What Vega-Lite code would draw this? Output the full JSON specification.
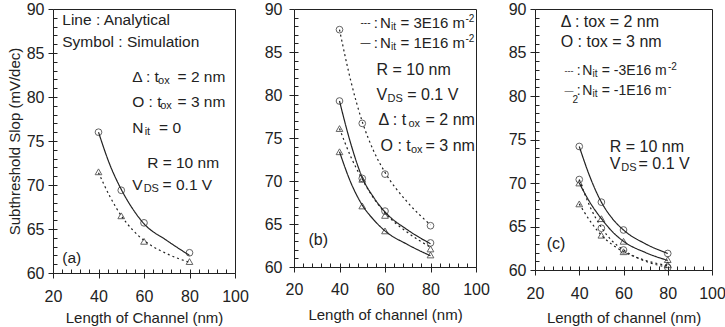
{
"$schema": "https://vega.github.io/schema/vega-lite/v6.json",
"background": "white",
"padding": {"left": 6, "top": 0, "right": 2, "bottom": 2},
"bounds": "flush",
"spacing": 59,
"config": {
  "font": "Liberation Sans",
  "view": {"stroke": "#222", "strokeWidth": 1},
  "axis": {"domain": false, "grid": false, "tickColor": "#222", "tickWidth": 1, "labelColor": "#222", "titleColor": "#222", "labelFont": "Liberation Sans", "titleFont": "Liberation Sans", "labelFontSize": 16, "titleFontSize": 15, "titleFontWeight": "normal", "labelFlush": false, "labelOverlap": false},
  "text": {"font": "Liberation Sans", "color": "#222", "align": "left", "baseline": "middle"}
},
"datasets": {
  "sim": [
    {"panel":"a","tox":"3 nm","nit":"0","L":40,"S":76.0},{"panel":"a","tox":"3 nm","nit":"0","L":50,"S":69.4},{"panel":"a","tox":"3 nm","nit":"0","L":60,"S":65.7},{"panel":"a","tox":"3 nm","nit":"0","L":80,"S":62.3},
    {"panel":"a","tox":"2 nm","nit":"0","L":40,"S":71.5},{"panel":"a","tox":"2 nm","nit":"0","L":50,"S":66.5},{"panel":"a","tox":"2 nm","nit":"0","L":60,"S":63.6},{"panel":"a","tox":"2 nm","nit":"0","L":80,"S":61.3},
    {"panel":"b","tox":"3 nm","nit":"3E16","L":40,"S":87.6},{"panel":"b","tox":"3 nm","nit":"3E16","L":50,"S":76.7},{"panel":"b","tox":"3 nm","nit":"3E16","L":60,"S":70.8},{"panel":"b","tox":"3 nm","nit":"3E16","L":80,"S":64.8},
    {"panel":"b","tox":"2 nm","nit":"3E16","L":40,"S":76.1},{"panel":"b","tox":"2 nm","nit":"3E16","L":50,"S":70.2},{"panel":"b","tox":"2 nm","nit":"3E16","L":60,"S":66.0},{"panel":"b","tox":"2 nm","nit":"3E16","L":80,"S":62.1},
    {"panel":"b","tox":"3 nm","nit":"1E16","L":40,"S":79.3},{"panel":"b","tox":"3 nm","nit":"1E16","L":50,"S":70.3},{"panel":"b","tox":"3 nm","nit":"1E16","L":60,"S":66.5},{"panel":"b","tox":"3 nm","nit":"1E16","L":80,"S":62.8},
    {"panel":"b","tox":"2 nm","nit":"1E16","L":40,"S":73.4},{"panel":"b","tox":"2 nm","nit":"1E16","L":50,"S":67.1},{"panel":"b","tox":"2 nm","nit":"1E16","L":60,"S":64.2},{"panel":"b","tox":"2 nm","nit":"1E16","L":80,"S":61.4},
    {"panel":"c","tox":"3 nm","nit":"-1E16","L":40,"S":74.2},{"panel":"c","tox":"3 nm","nit":"-1E16","L":50,"S":67.8},{"panel":"c","tox":"3 nm","nit":"-1E16","L":60,"S":64.6},{"panel":"c","tox":"3 nm","nit":"-1E16","L":80,"S":61.9},
    {"panel":"c","tox":"2 nm","nit":"-1E16","L":40,"S":70.0},{"panel":"c","tox":"2 nm","nit":"-1E16","L":50,"S":65.9},{"panel":"c","tox":"2 nm","nit":"-1E16","L":60,"S":63.3},{"panel":"c","tox":"2 nm","nit":"-1E16","L":80,"S":61.2},
    {"panel":"c","tox":"3 nm","nit":"-3E16","L":40,"S":70.4},{"panel":"c","tox":"3 nm","nit":"-3E16","L":50,"S":64.8},{"panel":"c","tox":"3 nm","nit":"-3E16","L":60,"S":62.3},{"panel":"c","tox":"3 nm","nit":"-3E16","L":80,"S":60.3},
    {"panel":"c","tox":"2 nm","nit":"-3E16","L":40,"S":67.6},{"panel":"c","tox":"2 nm","nit":"-3E16","L":50,"S":64.0},{"panel":"c","tox":"2 nm","nit":"-3E16","L":60,"S":62.1},{"panel":"c","tox":"2 nm","nit":"-3E16","L":80,"S":60.6}
  ],
  "ana": [
    {"panel":"a","tox":"3 nm","nit":"0","L":40,"S":76.0},{"panel":"a","tox":"3 nm","nit":"0","L":45,"S":72.3},{"panel":"a","tox":"3 nm","nit":"0","L":50,"S":69.5},{"panel":"a","tox":"3 nm","nit":"0","L":55,"S":67.3},{"panel":"a","tox":"3 nm","nit":"0","L":60,"S":65.6},{"panel":"a","tox":"3 nm","nit":"0","L":70,"S":63.7},{"panel":"a","tox":"3 nm","nit":"0","L":80,"S":62.0},
    {"panel":"a","tox":"2 nm","nit":"0","L":40,"S":71.4},{"panel":"a","tox":"2 nm","nit":"0","L":45,"S":68.7},{"panel":"a","tox":"2 nm","nit":"0","L":50,"S":66.5},{"panel":"a","tox":"2 nm","nit":"0","L":55,"S":64.9},{"panel":"a","tox":"2 nm","nit":"0","L":60,"S":63.7},{"panel":"a","tox":"2 nm","nit":"0","L":70,"S":62.2},{"panel":"a","tox":"2 nm","nit":"0","L":80,"S":61.2},
    {"panel":"b","tox":"3 nm","nit":"3E16","L":40,"S":87.6},{"panel":"b","tox":"3 nm","nit":"3E16","L":45,"S":81.6},{"panel":"b","tox":"3 nm","nit":"3E16","L":50,"S":76.9},{"panel":"b","tox":"3 nm","nit":"3E16","L":55,"S":73.5},{"panel":"b","tox":"3 nm","nit":"3E16","L":60,"S":71.0},{"panel":"b","tox":"3 nm","nit":"3E16","L":70,"S":67.5},{"panel":"b","tox":"3 nm","nit":"3E16","L":80,"S":64.9},
    {"panel":"b","tox":"2 nm","nit":"3E16","L":40,"S":76.1},{"panel":"b","tox":"2 nm","nit":"3E16","L":45,"S":72.8},{"panel":"b","tox":"2 nm","nit":"3E16","L":50,"S":70.2},{"panel":"b","tox":"2 nm","nit":"3E16","L":55,"S":68.0},{"panel":"b","tox":"2 nm","nit":"3E16","L":60,"S":66.3},{"panel":"b","tox":"2 nm","nit":"3E16","L":70,"S":64.0},{"panel":"b","tox":"2 nm","nit":"3E16","L":80,"S":62.3},
    {"panel":"b","tox":"3 nm","nit":"1E16","L":40,"S":79.3},{"panel":"b","tox":"3 nm","nit":"1E16","L":45,"S":74.3},{"panel":"b","tox":"3 nm","nit":"1E16","L":50,"S":70.4},{"panel":"b","tox":"3 nm","nit":"1E16","L":55,"S":68.1},{"panel":"b","tox":"3 nm","nit":"1E16","L":60,"S":66.4},{"panel":"b","tox":"3 nm","nit":"1E16","L":70,"S":64.3},{"panel":"b","tox":"3 nm","nit":"1E16","L":80,"S":62.7},
    {"panel":"b","tox":"2 nm","nit":"1E16","L":40,"S":73.4},{"panel":"b","tox":"2 nm","nit":"1E16","L":45,"S":69.8},{"panel":"b","tox":"2 nm","nit":"1E16","L":50,"S":67.2},{"panel":"b","tox":"2 nm","nit":"1E16","L":55,"S":65.5},{"panel":"b","tox":"2 nm","nit":"1E16","L":60,"S":64.2},{"panel":"b","tox":"2 nm","nit":"1E16","L":70,"S":62.6},{"panel":"b","tox":"2 nm","nit":"1E16","L":80,"S":61.3},
    {"panel":"c","tox":"3 nm","nit":"-1E16","L":40,"S":74.2},{"panel":"c","tox":"3 nm","nit":"-1E16","L":45,"S":70.6},{"panel":"c","tox":"3 nm","nit":"-1E16","L":50,"S":67.8},{"panel":"c","tox":"3 nm","nit":"-1E16","L":55,"S":65.9},{"panel":"c","tox":"3 nm","nit":"-1E16","L":60,"S":64.6},{"panel":"c","tox":"3 nm","nit":"-1E16","L":70,"S":63.0},{"panel":"c","tox":"3 nm","nit":"-1E16","L":80,"S":61.9},
    {"panel":"c","tox":"2 nm","nit":"-1E16","L":40,"S":70.0},{"panel":"c","tox":"2 nm","nit":"-1E16","L":45,"S":67.7},{"panel":"c","tox":"2 nm","nit":"-1E16","L":50,"S":65.9},{"panel":"c","tox":"2 nm","nit":"-1E16","L":55,"S":64.4},{"panel":"c","tox":"2 nm","nit":"-1E16","L":60,"S":63.3},{"panel":"c","tox":"2 nm","nit":"-1E16","L":70,"S":62.0},{"panel":"c","tox":"2 nm","nit":"-1E16","L":80,"S":61.1},
    {"panel":"c","tox":"3 nm","nit":"-3E16","L":40,"S":70.4},{"panel":"c","tox":"3 nm","nit":"-3E16","L":45,"S":67.2},{"panel":"c","tox":"3 nm","nit":"-3E16","L":50,"S":64.9},{"panel":"c","tox":"3 nm","nit":"-3E16","L":55,"S":63.3},{"panel":"c","tox":"3 nm","nit":"-3E16","L":60,"S":62.3},{"panel":"c","tox":"3 nm","nit":"-3E16","L":70,"S":61.0},{"panel":"c","tox":"3 nm","nit":"-3E16","L":80,"S":60.3},
    {"panel":"c","tox":"2 nm","nit":"-3E16","L":40,"S":67.6},{"panel":"c","tox":"2 nm","nit":"-3E16","L":45,"S":65.6},{"panel":"c","tox":"2 nm","nit":"-3E16","L":50,"S":64.0},{"panel":"c","tox":"2 nm","nit":"-3E16","L":55,"S":62.9},{"panel":"c","tox":"2 nm","nit":"-3E16","L":60,"S":62.1},{"panel":"c","tox":"2 nm","nit":"-3E16","L":70,"S":61.1},{"panel":"c","tox":"2 nm","nit":"-3E16","L":80,"S":60.5}
  ],
  "notes": [
    {"panel":"a","role":"label","x":24.08,"y":88.75,"t":"Line : Analytical"},
    {"panel":"a","role":"label","x":24.08,"y":86.25,"t":"Symbol : Simulation"},
    {"panel":"a","role":"label","x":54.8,"y":82.27,"t":"Δ : t"},
    {"panel":"a","role":"label","x":74.76,"y":82.27,"t":"= 2 nm"},
    {"panel":"a","role":"label","x":54.8,"y":79.43,"t":"O : t"},
    {"panel":"a","role":"label","x":74.76,"y":79.43,"t":"= 3 nm"},
    {"panel":"a","role":"label","x":54.8,"y":76.48,"t":"N"},
    {"panel":"a","role":"label","x":66.64,"y":76.48,"t":"= 0"},
    {"panel":"a","role":"label","x":61.38,"y":72.5,"t":"R = 10 nm"},
    {"panel":"a","role":"label","x":54.8,"y":70.0,"t":"V"},
    {"panel":"a","role":"label","x":68.18,"y":70.0,"t":"= 0.1 V"},
    {"panel":"a","role":"label","x":24.08,"y":61.7,"t":"(a)"},
    {"panel":"a","role":"sub","x":66.2,"y":81.82,"t":"ox"},
    {"panel":"a","role":"sub","x":67.1,"y":78.98,"t":"ox"},
    {"panel":"a","role":"sub","x":60.28,"y":76.02,"t":"it"},
    {"panel":"a","role":"sub","x":59.84,"y":69.55,"t":"DS"},
    {"panel":"b","role":"label","x":56.26,"y":82.92,"t":"R = 10 nm"},
    {"panel":"b","role":"label","x":56.26,"y":80.05,"t":"V"},
    {"panel":"b","role":"label","x":69.76,"y":80.05,"t":"= 0.1 V"},
    {"panel":"b","role":"label","x":57.14,"y":77.11,"t":"Δ : t"},
    {"panel":"b","role":"label","x":77.8,"y":77.11,"t":"= 2 nm"},
    {"panel":"b","role":"label","x":58.02,"y":74.09,"t":"O : t"},
    {"panel":"b","role":"label","x":77.8,"y":74.09,"t":"= 3 nm"},
    {"panel":"b","role":"label","x":26.37,"y":63.1,"t":"(b)"},
    {"panel":"b","role":"sub","x":61.1,"y":79.59,"t":"DS"},
    {"panel":"b","role":"sub","x":70.33,"y":76.65,"t":"ox"},
    {"panel":"b","role":"sub","x":71.43,"y":73.63,"t":"ox"},
    {"panel":"b","role":"dash","x":49.23,"y":88.33,"t":"---"},
    {"panel":"b","role":"dash","x":49.23,"y":86.01,"t":"—"},
    {"panel":"b","role":"key","x":55.1,"y":88.33,"t":":"},
    {"panel":"b","role":"key","x":55.1,"y":86.01,"t":":"},
    {"panel":"b","role":"key","x":57.8,"y":88.33,"t":"N"},
    {"panel":"b","role":"key","x":57.8,"y":86.01,"t":"N"},
    {"panel":"b","role":"key","x":66.81,"y":88.33,"t":"= 3E16 m"},
    {"panel":"b","role":"key","x":66.81,"y":86.01,"t":"= 1E16 m"},
    {"panel":"b","role":"keysub","x":62.64,"y":87.94,"t":"it"},
    {"panel":"b","role":"keysub","x":62.64,"y":85.62,"t":"it"},
    {"panel":"b","role":"keysub","x":95.4,"y":88.84,"t":"-2"},
    {"panel":"b","role":"keysub","x":95.4,"y":86.52,"t":"-2"},
    {"panel":"c","role":"label","x":31.63,"y":88.46,"t":"Δ : tox = 2 nm"},
    {"panel":"c","role":"label","x":31.63,"y":86.16,"t":"O : tox = 3 nm"},
    {"panel":"c","role":"label","x":53.82,"y":74.09,"t":"R = 10 nm"},
    {"panel":"c","role":"label","x":53.82,"y":72.18,"t":"V"},
    {"panel":"c","role":"label","x":66.81,"y":72.18,"t":"= 0.1 V"},
    {"panel":"c","role":"label","x":25.3,"y":62.99,"t":"(c)"},
    {"panel":"c","role":"sub","x":59.02,"y":71.76,"t":"DS"},
    {"panel":"c","role":"dashc","x":33.31,"y":82.91,"t":"---"},
    {"panel":"c","role":"dashc","x":33.31,"y":80.61,"t":"—"},
    {"panel":"c","role":"keyc","x":38.88,"y":82.91,"t":":"},
    {"panel":"c","role":"keyc","x":38.88,"y":80.61,"t":":"},
    {"panel":"c","role":"keyc","x":41.37,"y":82.91,"t":"N"},
    {"panel":"c","role":"keyc","x":41.37,"y":80.61,"t":"N"},
    {"panel":"c","role":"keyc","x":50.19,"y":82.91,"t":"= -3E16 m"},
    {"panel":"c","role":"keyc","x":50.19,"y":80.61,"t":"= -1E16 m"},
    {"panel":"c","role":"keysub","x":46.03,"y":82.51,"t":"it"},
    {"panel":"c","role":"keysub","x":46.03,"y":80.21,"t":"it"},
    {"panel":"c","role":"keysub","x":80.07,"y":83.33,"t":"-2"},
    {"panel":"c","role":"keysub","x":80.07,"y":81.03,"t":"-"},
    {"panel":"c","role":"keysub","x":36.93,"y":79.57,"t":"2"}
  ]
},
"hconcat": [
  {
    "width": 182, "height": 264,
    "resolve": {"axis": {"x": "independent", "y": "independent"}},
    "encoding": {
      "x": {"field": "x", "type": "quantitative", "scale": {"domain": [20, 100], "nice": false, "zero": false}, "axis": null},
      "y": {"field": "y", "type": "quantitative", "scale": {"domain": [60, 90], "nice": false, "zero": false}, "axis": null}
    },
    "layer": [
      {
        "data": {"name": "ana"},
        "transform": [{"filter": "datum.panel === 'a'"}],
        "mark": {"type": "line", "interpolate": "monotone", "color": "#222", "strokeWidth": 1.2},
        "encoding": {
          "x": {"field": "L", "type": "quantitative", "scale": {"domain": [20, 100], "nice": false, "zero": false},
                "axis": {"orient": "bottom", "values": [20, 40, 60, 80, 100], "tickSize": 5, "labelPadding": 10, "title": "Length of Channel (nm)", "titlePadding": 6}},
          "y": {"field": "S", "type": "quantitative", "scale": {"domain": [60, 90], "nice": false, "zero": false},
                "axis": {"orient": "left", "values": [60, 65, 70, 75, 80, 85, 90], "tickSize": 5, "labelPadding": 4, "title": "Subthreshold Slop (mV/dec)", "titlePadding": 4}},
          "strokeDash": {"field": "tox", "type": "nominal", "scale": {"domain": ["3 nm", "2 nm"], "range": [[1, 0], [2, 3]]}, "legend": null}
        }
      },
      {
        "data": {"name": "sim"},
        "transform": [{"filter": "datum.panel === 'a'"}],
        "mark": {"type": "point", "filled": false, "color": "#222", "strokeWidth": 1, "size": 45},
        "encoding": {
          "x": {"field": "L", "type": "quantitative", "scale": {"domain": [20, 100], "nice": false, "zero": false},
                "axis": {"orient": "bottom", "values": [20,24,28,32,36,40,44,48,52,56,60,64,68,72,76,80,84,88,92,96,100], "tickSize": -4, "labels": false, "title": null}},
          "y": {"field": "S", "type": "quantitative", "scale": {"domain": [60, 90], "nice": false, "zero": false},
                "axis": {"orient": "left", "values": [60,61,62,63,64,65,66,67,68,69,70,71,72,73,74,75,76,77,78,79,80,81,82,83,84,85,86,87,88,89,90], "tickSize": -4, "labels": false, "title": null}},
          "shape": {"field": "tox", "type": "nominal", "scale": {"domain": ["2 nm", "3 nm"], "range": ["triangle-up", "circle"]}, "legend": null}
        }
      },
      {"data": {"name": "notes"}, "transform": [{"filter": "datum.panel === 'a' && datum.role === 'label'"}], "mark": {"type": "text", "fontSize": 15.5}, "encoding": {"text": {"field": "t"}}},
      {"data": {"name": "notes"}, "transform": [{"filter": "datum.panel === 'a' && datum.role === 'sub'"}], "mark": {"type": "text", "fontSize": 11}, "encoding": {"text": {"field": "t"}}}
    ]
  },
  {
    "width": 182, "height": 258,
    "resolve": {"axis": {"x": "independent", "y": "independent"}},
    "encoding": {
      "x": {"field": "x", "type": "quantitative", "scale": {"domain": [20, 100], "nice": false, "zero": false}, "axis": null},
      "y": {"field": "y", "type": "quantitative", "scale": {"domain": [60, 90], "nice": false, "zero": false}, "axis": null}
    },
    "layer": [
      {
        "data": {"name": "ana"},
        "transform": [{"filter": "datum.panel === 'b'"}],
        "mark": {"type": "line", "interpolate": "monotone", "color": "#222", "strokeWidth": 1.2},
        "encoding": {
          "x": {"field": "L", "type": "quantitative", "scale": {"domain": [20, 100], "nice": false, "zero": false},
                "axis": {"orient": "bottom", "values": [20, 40, 60, 80, 100], "tickSize": 5, "labelPadding": 9, "title": "Length of channel (nm)", "titlePadding": 10}},
          "y": {"field": "S", "type": "quantitative", "scale": {"domain": [60, 90], "nice": false, "zero": false},
                "axis": {"orient": "left", "values": [60, 65, 70, 75, 80, 85, 90], "tickSize": 5, "labelPadding": 7, "title": null}},
          "strokeDash": {"field": "nit", "type": "nominal", "scale": {"domain": ["1E16", "3E16"], "range": [[1, 0], [2, 3]]}, "legend": null},
          "detail": {"field": "tox"}
        }
      },
      {
        "data": {"name": "sim"},
        "transform": [{"filter": "datum.panel === 'b'"}],
        "mark": {"type": "point", "filled": false, "color": "#222", "strokeWidth": 1, "size": 45},
        "encoding": {
          "x": {"field": "L", "type": "quantitative", "scale": {"domain": [20, 100], "nice": false, "zero": false},
                "axis": {"orient": "bottom", "values": [20,24,28,32,36,40,44,48,52,56,60,64,68,72,76,80,84,88,92,96,100], "tickSize": -4, "labels": false, "title": null}},
          "y": {"field": "S", "type": "quantitative", "scale": {"domain": [60, 90], "nice": false, "zero": false},
                "axis": {"orient": "left", "values": [60,61,62,63,64,65,66,67,68,69,70,71,72,73,74,75,76,77,78,79,80,81,82,83,84,85,86,87,88,89,90], "tickSize": -4, "labels": false, "title": null}},
          "shape": {"field": "tox", "type": "nominal", "scale": {"domain": ["2 nm", "3 nm"], "range": ["triangle-up", "circle"]}, "legend": null}
        }
      },
      {"data": {"name": "notes"}, "transform": [{"filter": "datum.panel === 'b' && datum.role === 'label'"}], "mark": {"type": "text", "fontSize": 16}, "encoding": {"text": {"field": "t"}}},
      {"data": {"name": "notes"}, "transform": [{"filter": "datum.panel === 'b' && datum.role === 'sub'"}], "mark": {"type": "text", "fontSize": 11}, "encoding": {"text": {"field": "t"}}},
      {"data": {"name": "notes"}, "transform": [{"filter": "datum.panel === 'b' && datum.role === 'key'"}], "mark": {"type": "text", "fontSize": 15}, "encoding": {"text": {"field": "t"}}},
      {"data": {"name": "notes"}, "transform": [{"filter": "datum.panel === 'b' && datum.role === 'keysub'"}], "mark": {"type": "text", "fontSize": 10}, "encoding": {"text": {"field": "t"}}},
      {"data": {"name": "notes"}, "transform": [{"filter": "datum.panel === 'b' && datum.role === 'dash'"}], "mark": {"type": "text", "fontSize": 10}, "encoding": {"text": {"field": "t"}}}
    ]
  },
  {
    "width": 177, "height": 261,
    "resolve": {"axis": {"x": "independent", "y": "independent"}},
    "encoding": {
      "x": {"field": "x", "type": "quantitative", "scale": {"domain": [20, 100], "nice": false, "zero": false}, "axis": null},
      "y": {"field": "y", "type": "quantitative", "scale": {"domain": [60, 90], "nice": false, "zero": false}, "axis": null}
    },
    "layer": [
      {
        "data": {"name": "ana"},
        "transform": [{"filter": "datum.panel === 'c'"}],
        "mark": {"type": "line", "interpolate": "monotone", "color": "#222", "strokeWidth": 1.2},
        "encoding": {
          "x": {"field": "L", "type": "quantitative", "scale": {"domain": [20, 100], "nice": false, "zero": false},
                "axis": {"orient": "bottom", "values": [20, 40, 60, 80, 100], "tickSize": 5, "labelPadding": 10, "title": "Length of channel (nm)", "titlePadding": 9}},
          "y": {"field": "S", "type": "quantitative", "scale": {"domain": [60, 90], "nice": false, "zero": false},
                "axis": {"orient": "left", "values": [60, 65, 70, 75, 80, 85, 90], "tickSize": 5, "labelPadding": 4, "title": null}},
          "strokeDash": {"field": "nit", "type": "nominal", "scale": {"domain": ["-1E16", "-3E16"], "range": [[1, 0], [2, 3]]}, "legend": null},
          "detail": {"field": "tox"}
        }
      },
      {
        "data": {"name": "sim"},
        "transform": [{"filter": "datum.panel === 'c'"}],
        "mark": {"type": "point", "filled": false, "color": "#222", "strokeWidth": 1, "size": 45},
        "encoding": {
          "x": {"field": "L", "type": "quantitative", "scale": {"domain": [20, 100], "nice": false, "zero": false},
                "axis": {"orient": "bottom", "values": [20,24,28,32,36,40,44,48,52,56,60,64,68,72,76,80,84,88,92,96,100], "tickSize": -4, "labels": false, "title": null}},
          "y": {"field": "S", "type": "quantitative", "scale": {"domain": [60, 90], "nice": false, "zero": false},
                "axis": {"orient": "left", "values": [60,61,62,63,64,65,66,67,68,69,70,71,72,73,74,75,76,77,78,79,80,81,82,83,84,85,86,87,88,89,90], "tickSize": -4, "labels": false, "title": null}},
          "shape": {"field": "tox", "type": "nominal", "scale": {"domain": ["2 nm", "3 nm"], "range": ["triangle-up", "circle"]}, "legend": null}
        }
      },
      {"data": {"name": "notes"}, "transform": [{"filter": "datum.panel === 'c' && datum.role === 'label'"}], "mark": {"type": "text", "fontSize": 16}, "encoding": {"text": {"field": "t"}}},
      {"data": {"name": "notes"}, "transform": [{"filter": "datum.panel === 'c' && datum.role === 'sub'"}], "mark": {"type": "text", "fontSize": 11}, "encoding": {"text": {"field": "t"}}},
      {"data": {"name": "notes"}, "transform": [{"filter": "datum.panel === 'c' && datum.role === 'keyc'"}], "mark": {"type": "text", "fontSize": 14}, "encoding": {"text": {"field": "t"}}},
      {"data": {"name": "notes"}, "transform": [{"filter": "datum.panel === 'c' && datum.role === 'keysub'"}], "mark": {"type": "text", "fontSize": 10}, "encoding": {"text": {"field": "t"}}},
      {"data": {"name": "notes"}, "transform": [{"filter": "datum.panel === 'c' && datum.role === 'dashc'"}], "mark": {"type": "text", "fontSize": 9}, "encoding": {"text": {"field": "t"}}}
    ]
  }
]
}
